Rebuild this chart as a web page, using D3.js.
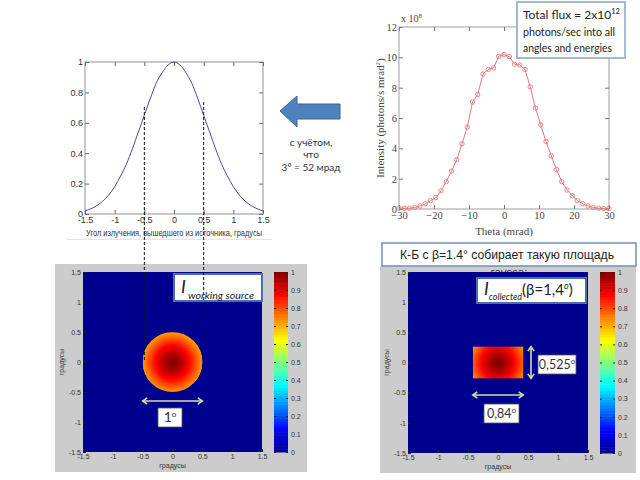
<!DOCTYPE html>
<html><head><meta charset="utf-8">
<script src="https://cdn.jsdelivr.net/npm/d3@7"></script>
<style>body{margin:0;background:#fff}svg{display:block}</style>
</head><body>
<svg id="c" width="640" height="480"></svg>
<script>
// ---------- data ----------
const profileAngles = [-1.5,-1.4,-1.3,-1.2,-1.1,-1.0,-0.9,-0.8,-0.7,-0.6,-0.5,-0.4,-0.3,-0.2,-0.1,0,0.1,0.2,0.3,0.4,0.5,0.6,0.7,0.8,0.9,1.0,1.1,1.2,1.3,1.4,1.5];
const profileValues = [0.02,0.035,0.055,0.085,0.125,0.18,0.25,0.33,0.43,0.54,0.65,0.76,0.86,0.93,0.98,1.0,0.98,0.93,0.86,0.76,0.65,0.54,0.43,0.33,0.25,0.18,0.125,0.085,0.055,0.035,0.02];
const thetaMrad = [-30,-28.5,-27,-25.5,-24,-22.5,-21,-19.5,-18,-16.5,-15,-13.5,-12,-10.5,-9,-7.5,-6,-4.5,-3,-1.5,0,1.5,3,4.5,6,7.5,9,10.5,12,13.5,15,16.5,18,19.5,21,22.5,24,25.5,27,28.5,30];
const intensity = [0.05,0.05,0.05,0.1,0.2,0.35,0.55,0.75,1.2,1.8,2.5,3.25,4.3,5.4,7.05,7.55,8.9,9.2,9.3,10.07,10.18,10.05,9.55,9.5,9.2,8.05,6.65,5.55,4.45,3.5,2.6,1.8,1.25,0.88,0.55,0.35,0.2,0.1,0.05,0.03,0.03];
const profileXTicks = [-1.5,-1,-0.5,0,0.5,1,1.5];
const profileYTicks = [0,0.2,0.4,0.6,0.8,1];
const thetaTicks = [-30,-20,-10,0,10,20,30];
const intensityTicks = [0,2,4,6,8,10,12];
const mapTicks = [-1.5,-1,-0.5,0,0.5,1,1.5];
const colorbarTicks = [0,0.1,0.2,0.3,0.4,0.5,0.6,0.7,0.8,0.9,1];
// heat-map level vs radius (degrees)
const mapRadius = [0,0.1,0.2,0.3,0.4,0.5,0.6];
const mapLevel  = [1,0.97,0.92,0.86,0.79,0.72,0.65];
const sourceDiameter = 1.0;          // degrees
const collectedWidth = 0.84;         // degrees
const collectedHeight = 0.525;       // degrees

const svg = d3.select("#c");
const SANS = "'Liberation Sans', Arial, sans-serif";
const SERIF = "'Liberation Serif', 'Times New Roman', serif";
const BOXF = "Lato, 'Open Sans', sans-serif";

const jet = d3.scaleLinear()
  .domain([0,0.125,0.375,0.625,0.875,1])
  .range(["#00008f","#0000ff","#00ffff","#ffff00","#ff0000","#800000"])
  .interpolate(d3.interpolateRgb).clamp(true);

const radial = d3.scaleLinear().domain(mapRadius).range(mapLevel).clamp(true);

function styleAxis(g, font, size, color, lineColor){
  g.select(".domain").remove();
  g.selectAll(".tick line").attr("stroke", lineColor);
  g.selectAll(".tick text").attr("font-family", font).attr("font-size", size).attr("fill", color);
}

// ---------- Top-left: profile ----------
(function(){
  const x = d3.scaleLinear().domain([-1.5,1.5]).range([85,263]);
  const y = d3.scaleLinear().domain([0,1]).range([214,62]);
  const g = svg.append("g");
  const fmt = d => d===0?"0":String(d);
  g.append("g").attr("transform","translate(0,214)")
    .call(d3.axisBottom(x).tickValues(profileXTicks).tickSize(-4).tickPadding(3).tickFormat(fmt))
    .call(a=>styleAxis(a,SANS,9,"#333","#666"));
  g.append("g").attr("transform","translate(0,62)")
    .call(d3.axisTop(x).tickValues(profileXTicks).tickSize(-4).tickFormat(""))
    .call(a=>styleAxis(a,SANS,9,"#333","#666"));
  g.append("g").attr("transform","translate(85,0)")
    .call(d3.axisLeft(y).tickValues(profileYTicks).tickSize(-4).tickPadding(2).tickFormat(fmt))
    .call(a=>styleAxis(a,SANS,9,"#333","#666"));
  g.append("g").attr("transform","translate(263,0)")
    .call(d3.axisRight(y).tickValues(profileYTicks).tickSize(-4).tickFormat(""))
    .call(a=>styleAxis(a,SANS,9,"#333","#666"));
  g.append("rect").attr("x",85).attr("y",62).attr("width",178).attr("height",152)
    .attr("fill","none").attr("stroke","#777").attr("stroke-width",0.8);
  g.append("path").datum(profileAngles.map((a,i)=>[a,profileValues[i]]))
    .attr("d", d3.line().x(d=>x(d[0])).y(d=>y(d[1])).curve(d3.curveMonotoneX))
    .attr("fill","none").attr("stroke","#4848a8").attr("stroke-width",1);
  g.append("text").attr("x",174).attr("y",236).attr("text-anchor","middle")
    .attr("font-family",SANS).attr("font-size",9).attr("fill","#333")
    .attr("textLength",176).attr("lengthAdjust","spacingAndGlyphs")
    .text("Угол излучения, вышедшего из источника, градусы");
  g.append("line").attr("x1",67).attr("x2",272).attr("y1",239.5).attr("y2",239.5)
    .attr("stroke","#e4e4e4").attr("stroke-width",1);
})();

// ---------- Top-right: intensity ----------
(function(){
  const x = d3.scaleLinear().domain([-30,30]).range([399,609]);
  const y = d3.scaleLinear().domain([0,12]).range([209,27]);
  const g = svg.append("g");
  g.append("g").attr("transform","translate(0,209)")
    .call(d3.axisBottom(x).tickValues(thetaTicks).tickSize(-4).tickPadding(3))
    .call(a=>styleAxis(a,SERIF,10.5,"#444","#777"));
  g.append("g").attr("transform","translate(0,27)")
    .call(d3.axisTop(x).tickValues(thetaTicks).tickSize(-4).tickFormat(""))
    .call(a=>styleAxis(a,SERIF,10.5,"#444","#777"));
  g.append("g").attr("transform","translate(399,0)")
    .call(d3.axisLeft(y).tickValues(intensityTicks).tickSize(-4).tickPadding(2))
    .call(a=>styleAxis(a,SERIF,10.5,"#444","#777"));
  g.append("g").attr("transform","translate(609,0)")
    .call(d3.axisRight(y).tickValues(intensityTicks).tickSize(-4).tickFormat(""))
    .call(a=>styleAxis(a,SERIF,10.5,"#444","#777"));
  g.append("rect").attr("x",399).attr("y",27).attr("width",210).attr("height",182)
    .attr("fill","none").attr("stroke","#888").attr("stroke-width",0.8);
  const pts = thetaMrad.map((t,i)=>[t,intensity[i]]);
  g.append("path").datum(pts)
    .attr("d", d3.line().x(d=>x(d[0])).y(d=>y(d[1])))
    .attr("fill","none").attr("stroke","#e37a7a").attr("stroke-width",1);
  g.selectAll("circle.pt").data(pts).join("circle").attr("class","pt")
    .attr("cx",d=>x(d[0])).attr("cy",d=>y(d[1])).attr("r",2.2)
    .attr("fill","none").attr("stroke","#e37a7a").attr("stroke-width",0.9);
  g.append("text").attr("x",504).attr("y",235).attr("text-anchor","middle")
    .attr("font-family",SERIF).attr("font-size",11).attr("fill","#444").text("Theta (mrad)");
  const yt = g.append("text").attr("transform","translate(384,118) rotate(-90)").attr("text-anchor","middle")
    .attr("font-family",SERIF).attr("font-size",11).attr("fill","#444");
  yt.append("tspan").text("Intensity (photons/s mrad");
  yt.append("tspan").attr("font-size",7).attr("dy",-4).text("2");
  yt.append("tspan").attr("dy",4).text(")");
  const ex = g.append("text").attr("x",401).attr("y",22).attr("font-family",SERIF).attr("font-size",10).attr("fill","#444");
  ex.append("tspan").text("x 10");
  ex.append("tspan").attr("font-size",7).attr("dy",-4).text("8");

  // Total flux box
  g.append("rect").attr("x",517).attr("y",2).attr("width",108).attr("height",56)
    .attr("fill","#fff").attr("stroke","#8aa2c0").attr("stroke-width",1.5);
  const l1 = g.append("text").attr("x",523).attr("y",19).attr("font-family",BOXF).attr("font-size",12).attr("fill","#222");
  l1.append("tspan").text("Total flux = 2x10");
  l1.append("tspan").attr("font-size",7.5).attr("dy",-5).text("12");
  g.append("text").attr("x",523).attr("y",36).attr("font-family",BOXF).attr("font-size",12).attr("fill","#222")
    .attr("textLength",92).attr("lengthAdjust","spacingAndGlyphs").text("photons/sec into all");
  g.append("text").attr("x",523).attr("y",52).attr("font-family",BOXF).attr("font-size",12).attr("fill","#222")
    .attr("textLength",89).attr("lengthAdjust","spacingAndGlyphs").text("angles and energies");
})();

// ---------- Arrow + note ----------
svg.append("path")
  .attr("d","M280,111 L297,96 L297,104 L340,104 L340,119 L297,119 L297,127 Z")
  .attr("fill","#4f81bd").attr("stroke","#3a6593").attr("stroke-width",1);
[["с учётом,",146],["что",158],["3° = 52 мрад",171]].forEach(([t,yy])=>{
  svg.append("text").attr("x",311).attr("y",yy).attr("text-anchor","middle")
    .attr("font-family",BOXF).attr("font-size",10).attr("fill","#333").text(t);
});

// ---------- Heatmap panels ----------
function heatPanel(o){
  const g = svg.append("g");
  g.append("rect").attr("x",o.px).attr("y",o.py).attr("width",o.pw).attr("height",o.ph).attr("fill","#cccccc");
  if(o.before) o.before(g);
  const x = d3.scaleLinear().domain([-1.5,1.5]).range([o.x0,o.x1]);
  const y = d3.scaleLinear().domain([-1.5,1.5]).range([o.y1,o.y0]);
  g.append("rect").attr("x",o.x0).attr("y",o.y0).attr("width",o.x1-o.x0).attr("height",o.y1-o.y0).attr("fill",jet(0));
  const step = 0.02;
  const clipId = "clip"+o.id;
  const cp = g.append("clipPath").attr("id",clipId);
  o.clip(cp,x,y);
  const cells = [];
  d3.range(-o.hx, o.hx, step).forEach(cx=>{
    d3.range(-o.hy, o.hy, step).forEach(cy=>{
      const mx = cx+step/2, my = cy+step/2;
      cells.push({x:cx, y:cy, v: radial(Math.hypot(mx,my))});
    });
  });
  const sc = Math.abs(x(step)-x(0));
  g.append("g").attr("clip-path",`url(#${clipId})`)
    .selectAll("rect").data(cells).join("rect")
    .attr("x",d=>x(d.x)).attr("y",d=>y(d.y+step)).attr("width",sc+0.6).attr("height",sc+0.6)
    .attr("fill",d=>jet(d.v));
  const fmt = d=>String(d);
  g.append("g").attr("transform",`translate(0,${o.y1})`)
    .call(d3.axisBottom(x).tickValues(mapTicks).tickSize(-3).tickPadding(2).tickFormat(fmt))
    .call(a=>styleAxis(a,SANS,7,"#333","#222"));
  g.append("g").attr("transform",`translate(${o.x0},0)`)
    .call(d3.axisLeft(y).tickValues(mapTicks).tickSize(-3).tickPadding(2).tickFormat(fmt))
    .call(a=>styleAxis(a,SANS,7,"#333","#222"));
  g.append("text").attr("x",(o.x0+o.x1)/2).attr("y",o.y1+16).attr("text-anchor","middle")
    .attr("font-family",SANS).attr("font-size",7).attr("fill","#333").text("градусы");
  g.append("text").attr("transform",`translate(${o.x0-19},${(o.y0+o.y1)/2}) rotate(-90)`).attr("text-anchor","middle")
    .attr("font-family",SANS).attr("font-size",7).attr("fill","#333").text("градусы");
  const cy = d3.scaleLinear().domain([0,1]).range([o.y1,o.y0]);
  const bands = d3.range(0,1,1/64);
  g.append("g").selectAll("rect").data(bands).join("rect")
    .attr("x",o.cbx).attr("width",o.cbw).attr("y",d=>cy(d+1/64)).attr("height",Math.abs(cy(1/64)-cy(0))+0.5)
    .attr("fill",d=>jet(d+1/128));
  g.append("g").attr("transform",`translate(${o.cbx+o.cbw},0)`)
    .call(d3.axisRight(cy).tickValues(colorbarTicks).tickSize(-2).tickPadding(3).tickFormat(d=>String(+d.toFixed(1))))
    .call(a=>styleAxis(a,SANS,7,"#333","#222"));
  g.append("g").attr("transform",`translate(${o.cbx},0)`)
    .call(d3.axisLeft(cy).tickValues(colorbarTicks).tickSize(-2).tickFormat(""))
    .call(a=>styleAxis(a,SANS,7,"#333","#222"));
  return {g,x,y};
}

function doubleArrow(g, x1,y1,x2,y2){
  const col="#d2dfa2";
  g.append("line").attr("x1",x1).attr("y1",y1).attr("x2",x2).attr("y2",y2).attr("stroke",col).attr("stroke-width",1.6);
  const ang = Math.atan2(y2-y1,x2-x1);
  [[x1,y1,ang+Math.PI],[x2,y2,ang]].forEach(([px,py,a])=>{
    const s=4.5;
    const p1=[px-s*Math.cos(a)+s*0.7*Math.sin(a), py-s*Math.sin(a)-s*0.7*Math.cos(a)];
    const p2=[px-s*Math.cos(a)-s*0.7*Math.sin(a), py-s*Math.sin(a)+s*0.7*Math.cos(a)];
    g.append("path").attr("d",`M${p1}L${px},${py}L${p2}`).attr("fill","none").attr("stroke",col).attr("stroke-width",1.6);
  });
}
function labelBox(g,x,y,w,h,text,fs){
  g.append("rect").attr("x",x).attr("y",y).attr("width",w).attr("height",h).attr("fill","#fff").attr("stroke","#555").attr("stroke-width",0.8);
  g.append("text").attr("x",x+w/2).attr("y",y+h/2+4.5).attr("text-anchor","middle")
    .attr("font-family",BOXF).attr("font-size",fs).attr("fill","#333").html(text);
}

// Left heatmap (circle)
const L = heatPanel({id:"L",px:55,py:264,pw:252,ph:208,x0:83,x1:262,y0:272,y1:452,cbx:274,cbw:14,
  hx:sourceDiameter/2, hy:sourceDiameter/2,
  clip:(cp,x,y)=>cp.append("circle").attr("cx",x(0)).attr("cy",y(0)).attr("r",x(sourceDiameter/2)-x(0))});
L.g.append("rect").attr("x",174).attr("y",274).attr("width",88).attr("height",27).attr("fill","#fff").attr("stroke","#4a6ea8").attr("stroke-width",2);
L.g.append("text").attr("x",181).attr("y",293).attr("font-family",BOXF).attr("font-style","italic").attr("font-size",18).attr("fill","#222").text("I");
L.g.append("text").attr("x",188).attr("y",299).attr("font-family",BOXF).attr("font-style","italic").attr("font-size",9.5).attr("fill","#222")
  .attr("textLength",66).attr("lengthAdjust","spacingAndGlyphs").text("working source");
doubleArrow(L.g, L.x(-sourceDiameter/2), 401, L.x(sourceDiameter/2), 401);
labelBox(L.g,158,408,24,19,"1<tspan font-size='8' dy='-5'>o</tspan>",14);

// Right heatmap (rectangle)
const R = heatPanel({id:"R",px:380,py:266,pw:256,ph:207,x0:408,x1:588,y0:272,y1:453,cbx:600,cbw:15,
  hx:collectedWidth/2, hy:collectedHeight/2,
  before:g=>{
    g.append("text").attr("x",509).attr("y",276).attr("text-anchor","middle")
      .attr("font-family",SANS).attr("font-size",11.5).attr("fill","#333").text("гаусса:");
  },
  clip:(cp,x,y)=>cp.append("rect").attr("x",x(-collectedWidth/2)).attr("y",y(collectedHeight/2))
      .attr("width",x(collectedWidth/2)-x(-collectedWidth/2)).attr("height",y(-collectedHeight/2)-y(collectedHeight/2))});
R.g.append("rect").attr("x",477).attr("y",278).attr("width",109).attr("height",25).attr("fill","#fff").attr("stroke","#4a6ea8").attr("stroke-width",2);
const ic = R.g.append("text").attr("x",484).attr("y",295).attr("font-family",BOXF).attr("font-style","italic").attr("fill","#222");
ic.append("tspan").attr("font-size",18).text("I");
ic.append("tspan").attr("font-size",9).attr("dy",5).text("collected");
ic.append("tspan").attr("font-size",15).attr("font-style","normal").attr("dy",-5).text("(β=1,4");
ic.append("tspan").attr("font-size",9).attr("dy",-6).text("o");
ic.append("tspan").attr("font-size",15).attr("font-style","normal").attr("dy",6).text(")");
doubleArrow(R.g, R.x(-collectedWidth/2), 395, R.x(collectedWidth/2), 395);
doubleArrow(R.g, 531, R.y(collectedHeight/2), 531, R.y(-collectedHeight/2));
labelBox(R.g,538,355,38,19,"0,525<tspan font-size='8' dy='-5'>o</tspan>",12.5);
labelBox(R.g,484,404,35,19,"0,84<tspan font-size='8' dy='-5'>o</tspan>",12.5);

// top caption box (right)
svg.append("rect").attr("x",382).attr("y",243).attr("width",254).attr("height",23).attr("fill","#fff").attr("stroke","#6f8fba").attr("stroke-width",1.5);
svg.append("text").attr("x",507).attr("y",259).attr("text-anchor","middle").attr("font-family",SANS).attr("font-size",12).attr("fill","#222")
  .attr("textLength",214).attr("lengthAdjust","spacingAndGlyphs").text("К-Б с β=1.4° собирает такую площадь");

// dashed guide lines
[-sourceDiameter/2, sourceDiameter/2].forEach((a,i)=>{
  const xx = d3.scaleLinear().domain([-1.5,1.5]).range([85,263])(a);
  svg.append("line").attr("x1",xx).attr("x2",xx).attr("y1",i?102:107).attr("y2",362)
    .attr("stroke","#111").attr("stroke-width",1).attr("stroke-dasharray","3,2");
});
</script>
</body></html>
